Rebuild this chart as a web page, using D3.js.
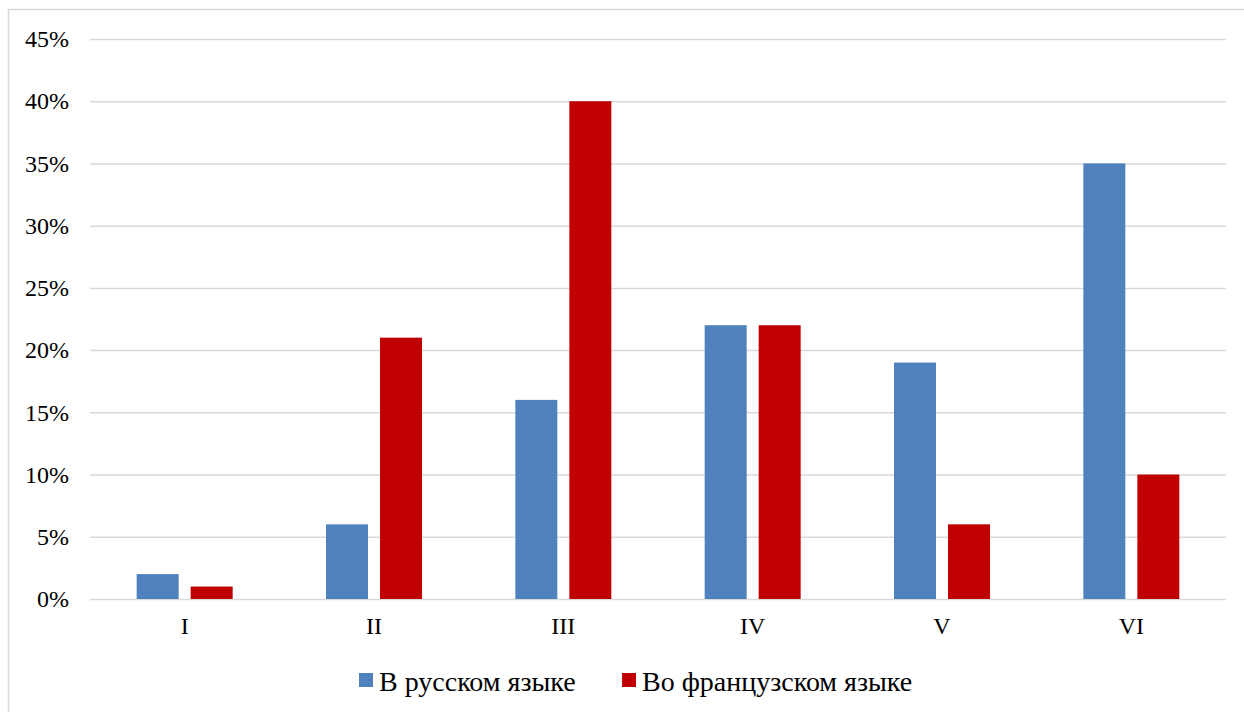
<!DOCTYPE html>
<html><head><meta charset="utf-8">
<script src="https://cdn.jsdelivr.net/npm/d3@7"></script>
<style>body{margin:0;background:#fff}svg{display:block}
svg text{font-family:"Liberation Serif","Times New Roman",Tinos,"DejaVu Serif",serif;}</style>
</head><body>
<script>
const categories = ["I","II","III","IV","V","VI"];
const seriesNames = ["В русском языке","Во французском языке"];
const russian = [2,6,16,22,19,35];
const french = [1,21,40,22,6,10];
const yTicks = [0,5,10,15,20,25,30,35,40,45];
const colors = ["#4F81BD","#C00000"];

(function(){
const W=1244,H=712;
const svg=d3.select("body").append("svg").attr("width",W).attr("height",H);
svg.append("rect").attr("x",8.5).attr("y",9.5).attr("width",W).attr("height",H)
  .attr("fill","#fff").attr("stroke","#D9D9D9").attr("stroke-width",1.5);

const pL=90,pR=1226,pT=39,pB=599;
const x=d3.scaleBand().domain(categories).range([pL,pR]);
const y=d3.scaleLinear().domain([0,45]).range([pB,pT]);

const yAxis=d3.axisLeft(y).tickValues(yTicks).tickFormat(d=>d+"%").tickSize(-(pR-pL)).tickPadding(21);
const gy=svg.append("g").attr("transform",`translate(${pL},0)`).call(yAxis);
gy.attr("font-family",null);
gy.select(".domain").remove();
gy.selectAll(".tick line").attr("stroke","#D9D9D9").attr("stroke-width",1.5);
gy.selectAll(".tick text").attr("font-size",24).attr("fill","#000");

const xAxis=d3.axisBottom(x).tickSize(0).tickPadding(18);
const gx=svg.append("g").attr("transform",`translate(0,${pB})`).call(xAxis);
gx.attr("font-family",null);
gx.select(".domain").remove();
gx.selectAll(".tick text").attr("font-size",24).attr("fill","#000");

const barW=42,gap=12;
const series=[russian,french];
series.forEach((vals,si)=>{
  svg.append("g").selectAll("rect").data(vals).join("rect")
    .attr("x",(d,i)=>x(categories[i])+x.bandwidth()/2-(barW+gap/2)+si*(barW+gap))
    .attr("y",d=>y(d)).attr("width",barW).attr("height",d=>y(0)-y(d))
    .attr("fill",colors[si]);
});

const lg=svg.append("g");
const items=[{x:359,tx:379},{x:622,tx:642}];
items.forEach((it,i)=>{
  lg.append("rect").attr("x",it.x).attr("y",673).attr("width",14).attr("height",14).attr("fill",colors[i]);
  lg.append("text").attr("x",it.tx).attr("y",691).attr("font-size",28).attr("fill","#000").text(seriesNames[i]);
});
})();
</script>
</body></html>
